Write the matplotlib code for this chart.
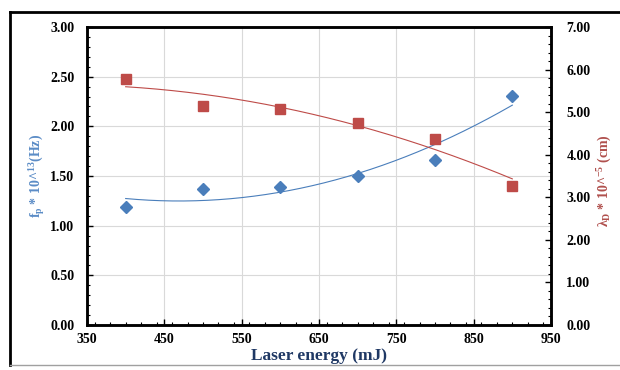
import matplotlib
matplotlib.use("Agg")
import matplotlib.pyplot as plt
import numpy as np
from matplotlib.lines import Line2D
from matplotlib.ticker import MultipleLocator

energy = [400, 500, 600, 700, 800, 900]
fp = [1.19, 1.37, 1.39, 1.50, 1.66, 2.31]
lambda_d = [5.77, 5.14, 5.08, 4.74, 4.37, 3.27]
xticks = [350, 450, 550, 650, 750, 850, 950]

plt.rcParams['font.family'] = ['Liberation Serif', 'DejaVu Serif']
plt.rcParams['font.weight'] = 'bold'
plt.rcParams['mathtext.fontset'] = 'custom'
plt.rcParams['mathtext.rm'] = 'Liberation Serif:bold'
plt.rcParams['mathtext.it'] = 'Liberation Serif:bold'

W, H = 620, 370
fig = plt.figure(figsize=(6.2, 3.7), dpi=100)
L, R, T, B = 87, 551, 27, 325
ax = fig.add_axes([L / W, 1 - B / H, (R - L) / W, (B - T) / H])
ax2 = ax.twinx()

blue = '#4a7ebb'
red = '#be4b48'

ax.grid(True, color='#d9d9d9', linewidth=0.8)
ax.set_axisbelow(True)

xs = np.linspace(min(energy), max(energy), 200)
cb = np.polyfit(energy, fp, 2)
cr = np.polyfit(energy, lambda_d, 2)
ax.plot(xs, np.polyval(cb, xs), color=blue, linewidth=0.8)
ax2.plot(xs, np.polyval(cr, xs), color=red, linewidth=0.8)
ax.plot(energy, fp, linestyle='none', marker='D', markersize=6.5, color=blue)
ax2.plot(energy, lambda_d, linestyle='none', marker='s', markersize=7.5, color=red)

ax.set_xlim(350, 950)
ax.set_ylim(0, 3)
ax2.set_ylim(0, 7)
ax.set_xticks(xticks)
ax.set_yticks(np.arange(0, 3.01, 0.5))
ax2.set_yticks(np.arange(0, 7.01, 1))
ax.set_yticklabels([f"{v:.2f}" for v in np.arange(0, 3.01, 0.5)])
ax2.set_yticklabels([f"{v:.2f}" for v in np.arange(0, 7.01, 1)])
ax.xaxis.set_minor_locator(MultipleLocator(20))
ax.yaxis.set_minor_locator(MultipleLocator(0.1))
ax2.yaxis.set_minor_locator(MultipleLocator(0.2))

for a in (ax, ax2):
    for s in a.spines.values():
        s.set_linewidth(1.8)
    a.tick_params(which='both', direction='in', labelsize=10)
    a.tick_params(which='major', length=4, width=1)
    a.tick_params(which='minor', length=2.5, width=0.8)
ax.tick_params(axis='x', pad=6)
ax.tick_params(axis='y', pad=9)
ax2.tick_params(axis='y', pad=11)
for lbl in ax.get_xticklabels() + ax.get_yticklabels() + ax2.get_yticklabels():
    lbl.set_fontweight('bold')

ax.set_xlabel('Laser energy (mJ)', fontsize=12.5, fontweight='bold', color='#1f3864', labelpad=1)
ax.set_ylabel(r'f$_\mathregular{p}$ * 10^$^{\mathregular{13}}$(Hz)', fontsize=10, fontweight='bold', color='#5b8cc6')
ax2.set_ylabel(r'λ$_\mathregular{D}$ * 10^$^{\mathregular{-5}}$ (cm)', fontsize=10, fontweight='bold', color='#b0504d', rotation=90)
ax.yaxis.set_label_coords((47 - L) / (R - L), (B - 176) / (B - T), transform=ax.transAxes)
ax2.yaxis.set_label_coords((596 - L) / (R - L), (B - 181) / (B - T), transform=ax.transAxes)

# outer frame
fig.add_artist(Line2D([10 / W, 10 / W], [1 - 12 / H, 1 - 365 / H], transform=fig.transFigure, color='black', linewidth=2))
fig.add_artist(Line2D([10 / W, 1.0], [1 - 12 / H, 1 - 12 / H], transform=fig.transFigure, color='black', linewidth=2))
fig.add_artist(Line2D([10 / W, 1.0], [1 - 365 / H, 1 - 365 / H], transform=fig.transFigure, color='#a0a0a0', linewidth=1))

fig.savefig('out.png', dpi=100)
